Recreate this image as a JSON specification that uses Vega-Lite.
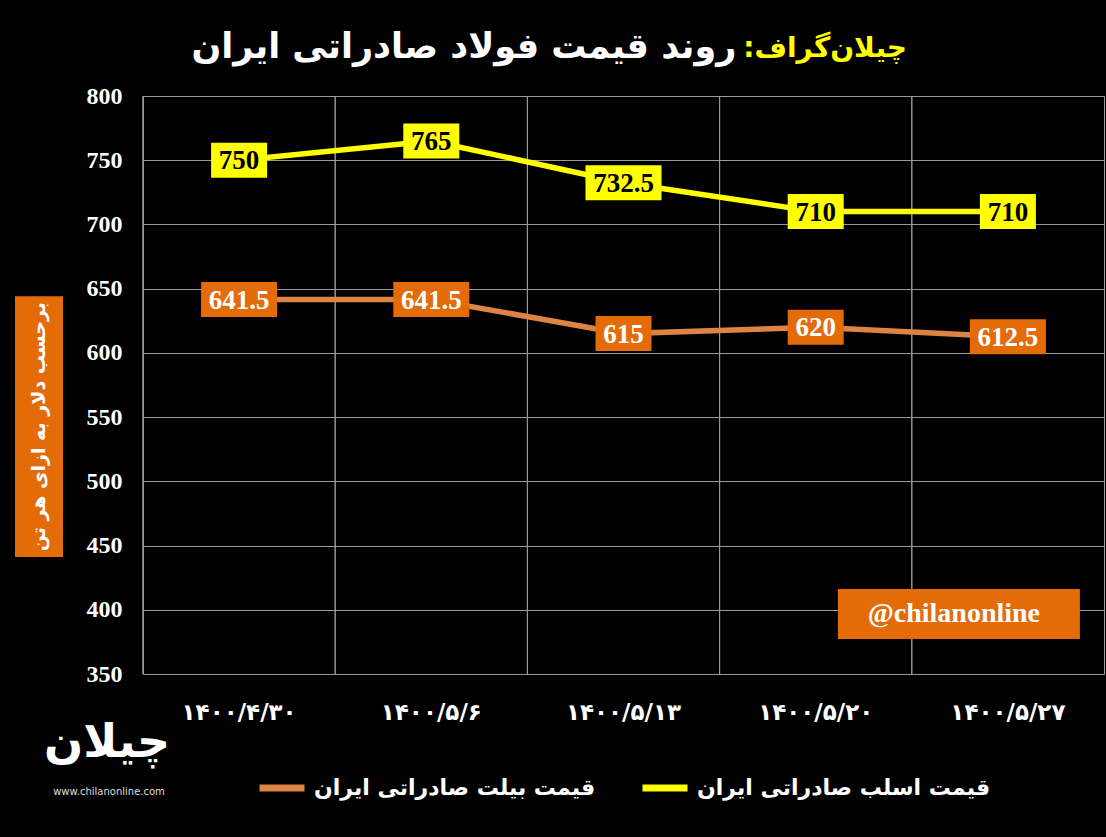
{
  "$schema": "https://vega.github.io/schema/vega-lite/v6.json",
  "background": "black",
  "padding": {"left": 15, "top": 29, "right": 2, "bottom": 37},
  "bounds": "flush",
  "spacing": 80,
  "title": {
    "text": "روند قیمت فولاد صادراتی ایران\u00a0\u00a0\u00a0\u00a0\u00a0\u00a0\u00a0\u00a0\u00a0\u00a0\u00a0\u00a0\u00a0\u00a0\u200e",
    "subtitle": "چیلان\u200cگراف:\u200f",
    "anchor": "start",
    "align": "right",
    "frame": "group",
    "dx": 892,
    "offset": 19,
    "font": "DejaVu Sans",
    "fontSize": 35,
    "fontWeight": "bold",
    "color": "white",
    "subtitleFont": "DejaVu Sans",
    "subtitleFontSize": 28,
    "subtitleFontWeight": "bold",
    "subtitleColor": "#FFFF00",
    "subtitlePadding": -30
  },
  "datasets": {
    "prices": [
      {"date": "۱۴۰۰/۴/۳۰", "series": "قیمت اسلب صادراتی ایران", "value": 750},
      {"date": "۱۴۰۰/۵/۶", "series": "قیمت اسلب صادراتی ایران", "value": 765},
      {"date": "۱۴۰۰/۵/۱۳", "series": "قیمت اسلب صادراتی ایران", "value": 732.5},
      {"date": "۱۴۰۰/۵/۲۰", "series": "قیمت اسلب صادراتی ایران", "value": 710},
      {"date": "۱۴۰۰/۵/۲۷", "series": "قیمت اسلب صادراتی ایران", "value": 710},
      {"date": "۱۴۰۰/۴/۳۰", "series": "قیمت بیلت صادراتی ایران", "value": 641.5},
      {"date": "۱۴۰۰/۵/۶", "series": "قیمت بیلت صادراتی ایران", "value": 641.5},
      {"date": "۱۴۰۰/۵/۱۳", "series": "قیمت بیلت صادراتی ایران", "value": 615},
      {"date": "۱۴۰۰/۵/۲۰", "series": "قیمت بیلت صادراتی ایران", "value": 620},
      {"date": "۱۴۰۰/۵/۲۷", "series": "قیمت بیلت صادراتی ایران", "value": 612.5}
    ]
  },
  "hconcat": [
    {
      "width": 48,
      "height": 578,
      "view": {"stroke": null},
      "data": {"values": [{"note": "برحسب دلار به ازای هر تن", "logo": "چیلان", "site": "www.chilanonline.com"}]},
      "layer": [
        {
          "mark": {"type": "rect", "color": "#E36C09"},
          "encoding": {
            "y": {"datum": 644, "type": "quantitative", "scale": {"domain": [350, 800], "nice": false, "zero": false}, "axis": null},
            "y2": {"datum": 441}
          }
        },
        {
          "mark": {"type": "text", "angle": 270, "color": "white", "font": "DejaVu Sans", "fontSize": 19, "fontWeight": "bold", "align": "center", "baseline": "middle"},
          "encoding": {
            "y": {"datum": 542.5, "type": "quantitative"},
            "text": {"field": "note"}
          }
        },
        {
          "mark": {"type": "text", "color": "white", "font": "DejaVu Sans", "fontSize": 46, "fontWeight": "bold", "align": "center", "baseline": "middle", "dx": 68},
          "encoding": {
            "y": {"datum": 296, "type": "quantitative"},
            "text": {"field": "logo"}
          }
        },
        {
          "mark": {"type": "text", "color": "#dddddd", "font": "DejaVu Sans", "fontSize": 10, "align": "center", "baseline": "middle", "dx": 70},
          "encoding": {
            "y": {"datum": 258, "type": "quantitative"},
            "text": {"field": "site"}
          }
        }
      ]
    },
    {
      "width": 961,
      "height": 578,
      "data": {"name": "prices"},
      "layer": [
        {
          "mark": {"type": "rule", "color": "#9a9a9a", "strokeWidth": 1},
          "encoding": {
            "x": {
              "field": "date", "type": "ordinal", "sort": null, "bandPosition": 0,
              "scale": {"type": "band", "paddingInner": 0, "paddingOuter": 0},
              "axis": {"title": null, "labelAngle": 0, "domain": false, "ticks": false, "grid": false, "labelColor": "white", "labelFont": "DejaVu Sans", "labelFontSize": 23, "labelFontWeight": "bold", "labelPadding": 27}
            }
          }
        },
        {
          "mark": {"type": "line", "strokeWidth": 5.5},
          "encoding": {
            "x": {"field": "date", "type": "ordinal", "sort": null, "bandPosition": 0.5},
            "y": {
              "field": "value", "type": "quantitative",
              "scale": {"domain": [350, 800], "nice": false, "zero": false},
              "axis": {"title": null, "values": [350, 400, 450, 500, 550, 600, 650, 700, 750, 800], "grid": true, "gridColor": "#9a9a9a", "domain": false, "ticks": false, "labelColor": "white", "labelFont": "Liberation Serif", "labelFontSize": 24, "labelFontWeight": "bold", "labelPadding": 21}
            },
            "color": {
              "field": "series", "type": "nominal",
              "scale": {"domain": ["قیمت بیلت صادراتی ایران", "قیمت اسلب صادراتی ایران"], "range": ["#DD8344", "#FFFF00"]},
              "legend": {"title": null, "orient": "bottom", "direction": "horizontal", "offset": 38, "labelColor": "white", "labelFont": "DejaVu Sans", "labelFontSize": 22, "labelFontWeight": "bold", "symbolType": "stroke", "symbolStrokeWidth": 7, "symbolSize": 2025, "labelOffset": 6, "columnPadding": 32, "labelLimit": 400}
            }
          }
        },
        {
          "transform": [{"filter": "datum.value % 1 == 0"}],
          "mark": {"type": "point", "shape": "M-1,-0.625H1V0.625H-1Z", "size": 3136, "filled": true, "opacity": 1, "strokeWidth": 0},
          "encoding": {
            "x": {"field": "date", "type": "ordinal", "sort": null, "bandPosition": 0.5},
            "y": {"field": "value", "type": "quantitative"},
            "fill": {"condition": {"test": "datum.series == 'قیمت اسلب صادراتی ایران'", "value": "#FFFF00"}, "value": "#E36C09"}
          }
        },
        {
          "transform": [{"filter": "datum.value % 1 != 0"}],
          "mark": {"type": "point", "shape": "M-1,-0.46H1V0.46H-1Z", "size": 5776, "filled": true, "opacity": 1, "strokeWidth": 0},
          "encoding": {
            "x": {"field": "date", "type": "ordinal", "sort": null, "bandPosition": 0.5},
            "y": {"field": "value", "type": "quantitative"},
            "fill": {"condition": {"test": "datum.series == 'قیمت اسلب صادراتی ایران'", "value": "#FFFF00"}, "value": "#E36C09"}
          }
        },
        {
          "mark": {"type": "text", "font": "Liberation Serif", "fontSize": 27, "fontWeight": "bold", "align": "center", "baseline": "middle", "dy": 1},
          "encoding": {
            "x": {"field": "date", "type": "ordinal", "sort": null, "bandPosition": 0.5},
            "y": {"field": "value", "type": "quantitative"},
            "text": {"field": "value", "type": "quantitative"},
            "color": {"condition": {"test": "datum.series == 'قیمت اسلب صادراتی ایران'", "value": "black"}, "value": "white"}
          }
        },
        {
          "data": {"values": [{"handle": "@chilanonline"}]},
          "mark": {"type": "point", "shape": "M-1,-0.2066H1V0.2066H-1Z", "size": 58564, "filled": true, "opacity": 1, "strokeWidth": 0, "color": "#E36C09"},
          "encoding": {
            "x": {"datum": "۱۴۰۰/۵/۲۷", "type": "ordinal", "bandPosition": 0.245},
            "y": {"datum": 396.7, "type": "quantitative"}
          }
        },
        {
          "data": {"values": [{"handle": "@chilanonline"}]},
          "mark": {"type": "text", "font": "Liberation Serif", "fontSize": 28, "fontWeight": "bold", "color": "white", "align": "center", "baseline": "middle", "dx": -5},
          "encoding": {
            "x": {"datum": "۱۴۰۰/۵/۲۷", "type": "ordinal", "bandPosition": 0.245},
            "y": {"datum": 396.7, "type": "quantitative"},
            "text": {"field": "handle"}
          }
        }
      ],
      "resolve": {"legend": {"color": "independent"}}
    }
  ],
  "resolve": {"legend": {"color": "independent"}},
  "config": {
    "view": {"stroke": "#9a9a9a"},
    "font": "DejaVu Sans",
    "legend": {"layout": {"bottom": {"anchor": "middle"}}}
  }
}
